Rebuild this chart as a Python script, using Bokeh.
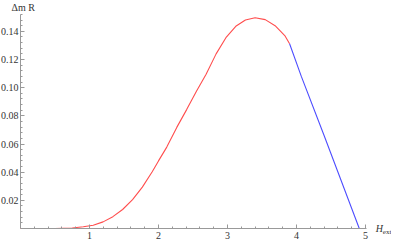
from bokeh.plotting import figure
from bokeh.models import FixedTicker, Label, Range1d, CustomJSTickFormatter
from bokeh.embed import file_html
from bokeh.resources import INLINE

# data
red_x = [0.0, 0.5, 0.75, 0.91, 1.054, 1.197, 1.339, 1.48, 1.624, 1.766, 1.909, 2.0, 2.12, 2.265,
         2.41, 2.55, 2.69, 2.835, 2.977, 3.12, 3.26, 3.40, 3.547, 3.69, 3.83, 3.90]
red_y = [0.0, 0.0, 0.0004, 0.0012, 0.0023, 0.0047, 0.0084, 0.0135, 0.0205, 0.0294, 0.0403, 0.048, 0.0578, 0.0718,
         0.0846, 0.0974, 0.1095, 0.124, 0.1355, 0.1436, 0.148, 0.1497, 0.1483, 0.144, 0.137, 0.1312]
blue_x = [3.90, 4.07, 4.4, 4.91]
blue_y = [0.1312, 0.108, 0.066, 0.0]

x_ticks = [1, 2, 3, 4, 5]
y_ticks = [0.02, 0.04, 0.06, 0.08, 0.10, 0.12, 0.14]

AX = "#999999"
TXT = "#333333"
SERIF = "Liberation Serif"

Y_TOP = 0.1619
p = figure(frame_width=391, frame_height=243, output_backend="svg", toolbar_location=None,
           x_range=Range1d(-0.2899, 5.377), y_range=Range1d(-0.01065, Y_TOP),
           min_border_left=0, min_border_right=0, min_border_top=0, min_border_bottom=0)
p.outline_line_color = None
p.xgrid.visible = False
p.ygrid.visible = False

p.line(red_x, red_y, line_color="#ff4d4d", line_width=1.1)
p.line(blue_x, blue_y, line_color="#4d4dff", line_width=1.1)

xminor = [round(0.2 * i, 2) for i in range(1, 26) if i % 5 != 0]
yminor = [round(0.004 * i, 3) for i in range(1, 39) if i % 5 != 0]
p.xaxis.ticker = FixedTicker(ticks=x_ticks, minor_ticks=xminor)
p.yaxis.ticker = FixedTicker(ticks=y_ticks, minor_ticks=yminor)
p.yaxis.formatter = CustomJSTickFormatter(code="return tick.toFixed(2);")
p.xaxis.bounds = (0, 5.02)
p.yaxis.bounds = (0, 0.152)
p.xaxis.fixed_location = 0
p.yaxis.fixed_location = 0

for ax in (p.xaxis[0], p.yaxis[0]):
    ax.axis_line_color = AX
    ax.major_tick_line_color = AX
    ax.minor_tick_line_color = AX
    ax.major_tick_in = 4
    ax.major_tick_out = 0
    ax.minor_tick_in = 2
    ax.minor_tick_out = 0
    ax.major_label_text_font = SERIF
    ax.major_label_text_font_size = "10px"
    ax.major_label_text_color = TXT
p.xaxis.major_label_standoff = 3
p.yaxis.major_label_standoff = 2

p.add_layout(Label(x=0, y=Y_TOP, x_offset=-9, y_offset=-1, text="\u0394m R", text_font=SERIF,
                   text_font_size="10px", text_baseline="top", text_color=TXT))
p.add_layout(Label(x=5.02, y=0, x_offset=9, text="H", text_font=SERIF, text_font_style="italic",
                   text_font_size="10px", text_baseline="middle", text_color=TXT))
p.add_layout(Label(x=5.02, y=0, x_offset=16, y_offset=-3, text="ext", text_font=SERIF,
                   text_font_size="7px", text_baseline="middle", text_color=TXT))

open("out.html", "w").write(file_html(p, INLINE))
